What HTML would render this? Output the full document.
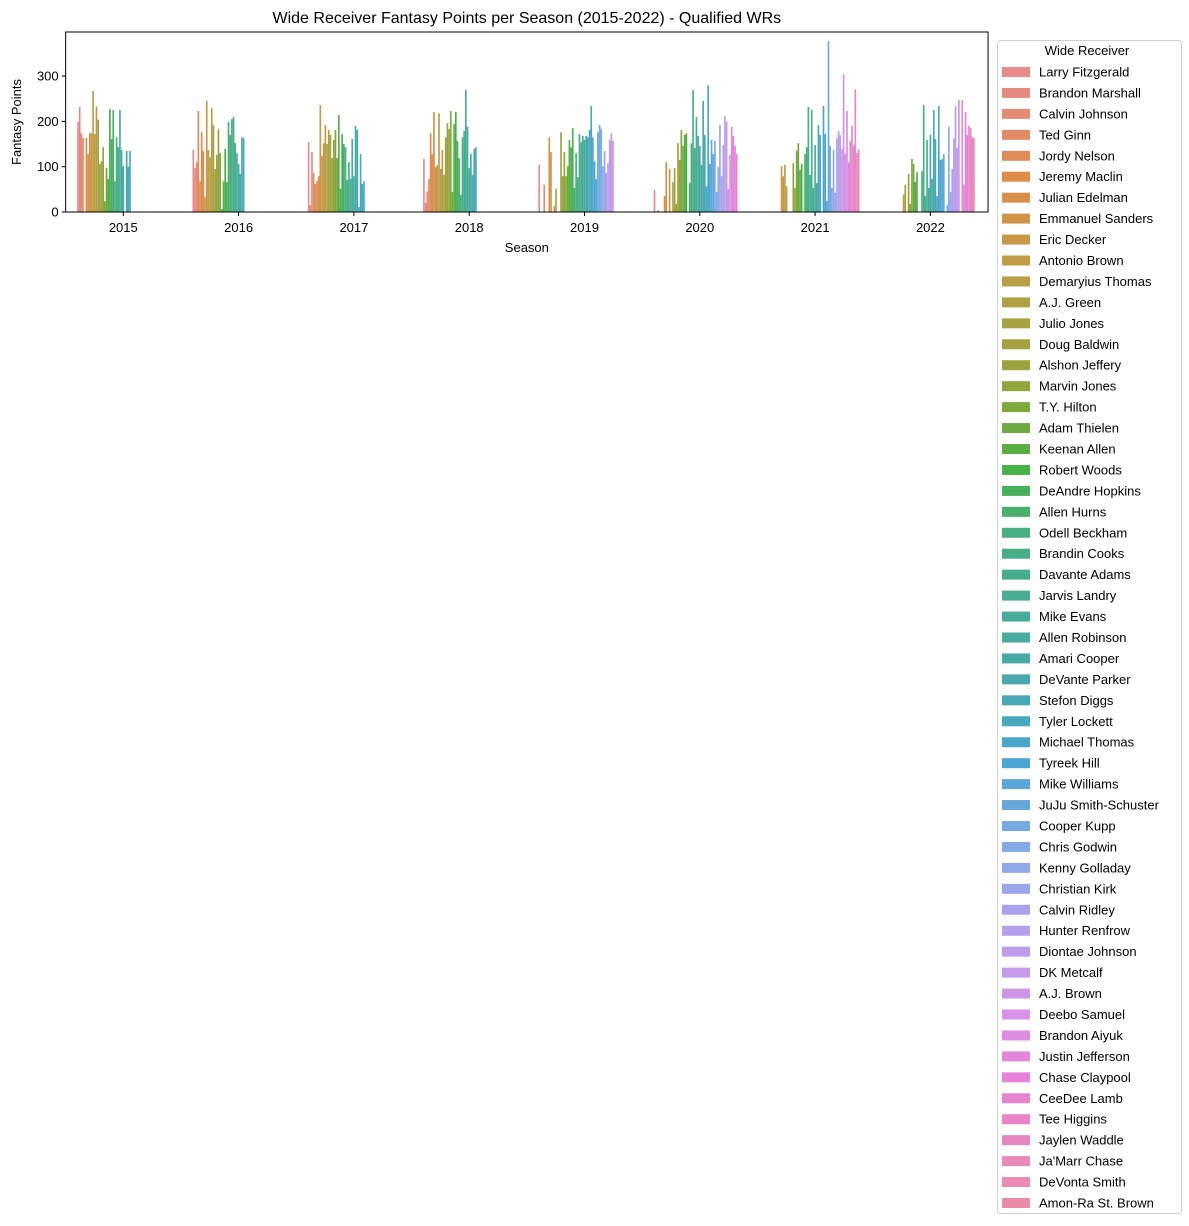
<!DOCTYPE html>
<html><head><meta charset="utf-8"><style>
body{margin:0;background:#fff;}
svg{display:block;font-family:"Liberation Sans","DejaVu Sans",sans-serif;}
</style></head><body>
<svg id="chart" width="1189" height="1226" viewBox="0 0 1189 1226" xmlns="http://www.w3.org/2000/svg"></svg>
<script>
const receivers=["Larry Fitzgerald","Brandon Marshall","Calvin Johnson","Ted Ginn","Jordy Nelson","Jeremy Maclin","Julian Edelman","Emmanuel Sanders","Eric Decker","Antonio Brown","Demaryius Thomas","A.J. Green","Julio Jones","Doug Baldwin","Alshon Jeffery","Marvin Jones","T.Y. Hilton","Adam Thielen","Keenan Allen","Robert Woods","DeAndre Hopkins","Allen Hurns","Odell Beckham","Brandin Cooks","Davante Adams","Jarvis Landry","Mike Evans","Allen Robinson","Amari Cooper","DeVante Parker","Stefon Diggs","Tyler Lockett","Michael Thomas","Tyreek Hill","Mike Williams","JuJu Smith-Schuster","Cooper Kupp","Chris Godwin","Kenny Golladay","Christian Kirk","Calvin Ridley","Hunter Renfrow","Diontae Johnson","DK Metcalf","A.J. Brown","Deebo Samuel","Brandon Aiyuk","Justin Jefferson","Chase Claypool","CeeDee Lamb","Tee Higgins","Jaylen Waddle","Ja'Marr Chase","DeVonta Smith","Amon-Ra St. Brown"];
const seasons=["2015","2016","2017","2018","2019","2020","2021","2022"];
const yTicks=[0,100,200,300];
const n=null;
const pts2015=[199,232,174,164,n,164,128,174,174,267,172,233,204,106,112,143,24,98,73,227,161,225,68,165,143,225,137,101,n,135,100,135];
const pts2016=[137,97,110,223,68,176,135,33,245,137,121,229,192,95,126,183,130,7,68,139,66,199,170,205,210,152,130,106,84,165,163];
const pts2017=[154,15,132,86,62,68,79,236,124,152,192,150,181,170,119,159,181,119,214,51,172,150,143,71,110,73,161,79,190,181,11,128,62,68];
const pts2018=[117,20,46,73,174,128,221,99,104,218,95,137,82,165,196,183,223,44,194,221,157,119,38,165,179,269,188,97,128,82,139,143];
const pts2019=[104,n,n,60,n,n,165,132,n,13,51,n,n,176,79,132,79,101,159,143,185,53,130,77,172,154,168,159,168,165,181,234,165,112,73,176,192,184,101,135,86,108,159,174,157];
const pts2020=[49,n,4,n,n,n,35,110,n,95,n,66,97,18,152,115,181,146,170,174,n,64,152,269,141,210,168,146,104,245,170,57,280,106,159,128,157,44,99,192,79,148,212,200,51,126,188,168,146,128];
const pts2021=[n,n,n,n,n,n,n,101,79,104,57,n,n,n,108,53,135,152,93,106,n,128,143,232,82,225,53,148,64,192,170,n,234,172,24,377,146,53,137,42,163,179,170,139,304,128,223,110,157,190,146,271,130,139];
const pts2022=[n,n,n,n,n,n,n,n,n,n,n,38,60,n,84,18,117,106,66,88,n,n,90,236,35,159,53,170,73,225,161,35,234,115,117,128,n,15,188,44,95,163,234,141,247,n,247,60,221,170,190,185,165,163];
const seriesBySeason=[pts2015,pts2016,pts2017,pts2018,pts2019,pts2020,pts2021,pts2022];

const NS="http://www.w3.org/2000/svg";
const svg=document.getElementById('chart');
function mk(t,a,p){const e=document.createElementNS(NS,t);for(const k in a)e.setAttribute(k,a[k]);(p||svg).appendChild(e);return e;}
const X0=65.65,UNIT=115.3,PT=32,PB=212,PR=X0+8*UNIT,YS=0.453;
const xc=i=>X0+UNIT*(i+0.5);
const y=v=>PB-v*YS;
const anchors=[[0,[232,138,142]],[5,[220,140,75]],[10,[185,160,70]],[15,[145,165,60]],[19,[72,176,72]],[22,[72,175,128]],[28,[72,170,165]],[33,[75,165,210]],[37,[130,170,230]],[41,[180,160,235]],[45,[215,145,230]],[48,[230,130,215]],[54,[232,140,170]]];
function col(i){for(let k=0;k<anchors.length-1;k++){const[a,ca]=anchors[k],[b,cb]=anchors[k+1];if(i<=b){const t=(i-a)/(b-a);return 'rgb('+ca.map((c,j)=>Math.round(c+(cb[j]-c)*t)).join(',')+')';}}return 'rgb(232,140,170)';}

const title=mk('text',{x:(X0+PR)/2,y:23,'text-anchor':'middle','font-size':16,fill:'#000'});
title.textContent='Wide Receiver Fantasy Points per Season (2015-2022) - Qualified WRs';



const NH=receivers.length,gw=0.8*UNIT,bw=gw/NH;
seriesBySeason.forEach((arr,s)=>{
  const g=mk('g',{});
  
  
  arr.forEach((v,h)=>{
    if(v==null)return;
    const r=mk('rect',{x:xc(s)-gw/2+h*bw,y:y(v),width:bw,height:v*YS,fill:col(h)},g);
    
    
  });
});

const frame=mk('rect',{x:X0,y:PT,width:PR-X0,height:PB-PT,fill:'none',stroke:'#000','stroke-width':1});



yTicks.forEach(t=>{
  mk('line',{x1:X0-4,x2:X0,y1:y(t),y2:y(t),stroke:'#000'});
  const tx=mk('text',{x:X0-7,y:y(t)+4.5,'text-anchor':'end','font-size':13});
  tx.textContent=t;
  
  
});
seasons.forEach((s,i)=>{
  mk('line',{x1:xc(i),x2:xc(i),y1:PB,y2:PB+4,stroke:'#000'});
  const tx=mk('text',{x:xc(i),y:PB+20,'text-anchor':'middle','font-size':13});
  tx.textContent=s;
  
  
});
const xl=mk('text',{x:(X0+PR)/2,y:252,'text-anchor':'middle','font-size':13});
xl.textContent='Season';


const yl=mk('text',{x:21,y:(PT+PB)/2,'text-anchor':'middle','font-size':13,transform:'rotate(-90 21 '+((PT+PB)/2)+')'});
yl.textContent='Fantasy Points';



const lg=mk('g',{});


mk('rect',{x:997.5,y:40.5,width:184,height:1173,rx:3,fill:'#fff',stroke:'#d0d0d0'},lg);
const lt=mk('text',{x:1087,y:55,'text-anchor':'middle','font-size':13},lg);
lt.textContent='Wide Receiver';


const step=(1203-72)/(receivers.length-1);
receivers.forEach((r,i)=>{
  const yy=72+i*step;
  const e=mk('g',{},lg);
  
  
  mk('rect',{x:1002,y:yy-5,width:28,height:10,fill:col(i)},e);
  const t=mk('text',{x:1039,y:yy+4.5,'font-size':13},e);
  t.textContent=r;
});
</script>
</body></html>
